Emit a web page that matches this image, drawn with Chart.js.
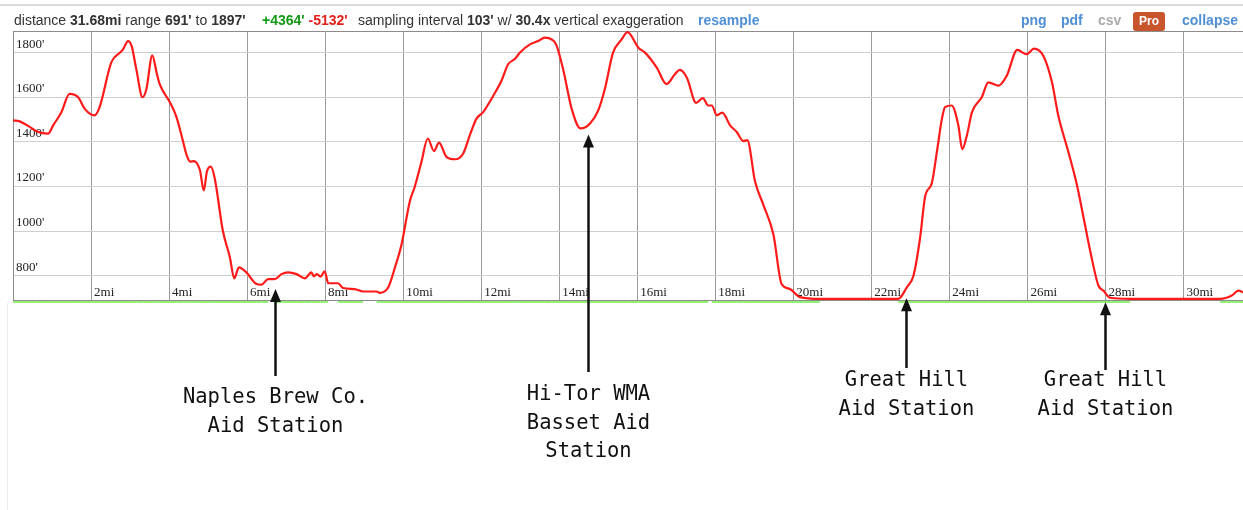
<!DOCTYPE html>
<html>
<head>
<meta charset="utf-8">
<script src="https://cdn.jsdelivr.net/npm/chart.js@4.4.1/dist/chart.umd.min.js"></script>
<style>
  html, body { margin: 0; padding: 0; background: #fff; overflow: hidden; }
  body { width: 1243px; height: 510px; position: relative; font-family: "Liberation Sans", Arial, sans-serif; }
  .topline { position: absolute; left: 0; top: 4px; width: 1243px; height: 2px; background: #dcdcdc; }
  .leftline { position: absolute; left: 7px; top: 303px; width: 1px; height: 207px; background: #ececec; }
  #wrap { position: absolute; left: 0; top: 0; width: 1262px; height: 510px; }
  #header { position: absolute; left: 0; top: 12px; font-size: 14px; color: #333; white-space: nowrap; }
  #header span.g { position: absolute; top: 0; }
  .up { color: #139a13; font-weight: bold; }
  .down { color: #e3211b; font-weight: bold; }
  .lnk { color: #4f8fd6; font-weight: bold; }
  .dim { color: #aaa; font-weight: bold; }
  .pro { background: #c9552d; color: #fff; border-radius: 3px; padding: 2px 6px 3px; font-weight: bold; font-size: 12px; }
</style>
</head>
<body>
<div class="topline"></div>
<div class="leftline"></div>
<div id="wrap"><canvas id="profile" width="1262" height="510"></canvas></div>
<div id="header">
  <span class="g" style="left:14px">distance <b>31.68mi</b> range <b>691'</b> to <b>1897'</b></span>
  <span class="g" style="left:262px"><span class="up">+4364'</span> <span class="down">-5132'</span></span>
  <span class="g" style="left:358px">sampling interval <b>103'</b> w/ <b>30.4x</b> vertical exaggeration</span>
  <span class="g lnk" style="left:698px">resample</span>
  <span class="g lnk" style="left:1021px">png</span>
  <span class="g lnk" style="left:1061px">pdf</span>
  <span class="g dim" style="left:1098px">csv</span>
  <span class="g" style="left:1133px;top:0px"><span class="pro">Pro</span></span>
  <span class="g lnk" style="left:1182px">collapse</span>
</div>
<script>
// elevation profile
const miles = [
  0.00, 0.17, 0.43, 0.60, 0.90, 1.03, 1.24, 1.45, 1.67, 1.84,
  2.09, 2.22, 2.52, 2.74, 2.82, 2.95, 3.04, 3.16, 3.32, 3.42,
  3.57, 3.68, 3.76, 4.02, 4.19, 4.34, 4.45, 4.55, 4.63, 4.79,
  4.89, 4.97, 5.07, 5.17, 5.38, 5.56, 5.67, 5.79, 5.98, 6.24,
  6.37, 6.54, 6.71, 6.88, 7.05, 7.27, 7.48, 7.65, 7.71, 7.79,
  7.88, 7.99, 8.08, 8.33, 8.46, 8.76, 8.97, 9.32, 9.40, 9.62,
  9.79, 9.96, 10.17, 10.30, 10.47, 10.63, 10.79, 10.92, 11.11, 11.33,
  11.54, 11.71, 11.88, 12.05, 12.31, 12.52, 12.69, 12.86, 12.99, 13.25,
  13.46, 13.63, 13.81, 13.92, 14.10, 14.32, 14.55, 14.79, 15.00, 15.17,
  15.38, 15.60, 15.75, 16.03, 16.20, 16.50, 16.75, 16.97, 17.09, 17.27,
  17.51, 17.68, 17.82, 17.91, 18.04, 18.18, 18.38, 18.55, 18.72, 18.82,
  19.02, 19.23, 19.49, 19.70, 19.91, 20.17, 20.68, 22.69, 22.91, 23.08,
  23.25, 23.38, 23.55, 23.68, 23.81, 23.89, 24.06, 24.23, 24.33, 24.45,
  24.58, 24.83, 25.00, 25.26, 25.47, 25.74, 25.98, 26.17, 26.41, 26.63,
  26.79, 27.05, 27.27, 27.44, 27.61, 27.82, 27.95, 28.12, 28.63, 30.94,
  31.24, 31.41, 31.53, 31.68
];
const elevationFt = [
  1496, 1492, 1467, 1448, 1437, 1474, 1533, 1615, 1600, 1548,
  1519, 1556, 1756, 1800, 1815, 1852, 1830, 1726, 1600, 1637,
  1788, 1711, 1659, 1578, 1511, 1415, 1341, 1311, 1314, 1274,
  1182, 1267, 1289, 1237, 1000, 882, 788, 837, 815, 763,
  760, 785, 785, 807, 815, 807, 788, 815, 797, 807,
  796, 820, 766, 766, 745, 740, 729, 729, 723, 748,
  837, 941, 1133, 1200, 1311, 1415, 1359, 1397, 1333, 1322,
  1348, 1430, 1504, 1533, 1607, 1674, 1748, 1771, 1800, 1837,
  1852, 1867, 1859, 1837, 1726, 1548, 1460, 1482, 1541, 1637,
  1800, 1859, 1892, 1822, 1800, 1733, 1659, 1704, 1723, 1689,
  1575, 1596, 1563, 1563, 1519, 1531, 1474, 1444, 1403, 1408,
  1222, 1119, 985, 763, 741, 704, 696, 696, 748, 800,
  970, 1156, 1215, 1355, 1504, 1556, 1563, 1474, 1367, 1430,
  1533, 1600, 1667, 1652, 1696, 1812, 1793, 1818, 1785, 1667,
  1519, 1355, 1207, 1060, 911, 756, 733, 701, 696, 696,
  711, 733, 726, 722
];
const xTickMiles = [2, 4, 6, 8, 10, 12, 14, 16, 18, 20, 22, 24, 26, 28, 30];
const yTickFt = [800, 1000, 1200, 1400, 1600, 1800];

// aid stations marked under the profile
const aidMiles = [6.71, 14.74, 22.89, 27.99];
const aidLabels = [
  ['Naples Brew Co.', 'Aid Station'],
  ['Hi-Tor WMA', 'Basset Aid', 'Station'],
  ['Great Hill', 'Aid Station'],
  ['Great Hill', 'Aid Station']
];
// layout of the callouts (pixels)
const aidArrowEnd = [376, 372, 368, 370];
const aidTextTop = [398, 395, 381, 381];

function elevAt(m) {
  for (let i = 1; i < miles.length; i++) {
    if (miles[i] >= m) {
      const t = (m - miles[i - 1]) / (miles[i] - miles[i - 1]);
      return elevationFt[i - 1] + t * (elevationFt[i] - elevationFt[i - 1]);
    }
  }
  return elevationFt[elevationFt.length - 1];
}

const profileExtras = {
  id: 'profileExtras',
  beforeDatasetsDraw(chart) {
    const { ctx, chartArea: a } = chart;
    ctx.save();
    ctx.strokeStyle = '#8c8c8c';
    ctx.lineWidth = 1;
    ctx.strokeRect(a.left + 0.5, a.top + 0.5, a.right - a.left - 1, a.bottom - a.top);
    ctx.restore();
  },
  afterDraw(chart) {
    const { ctx, chartArea: a } = chart;
    const xs = chart.scales.x, ys = chart.scales.y;
    ctx.save();
    // grade strip below the plot
    ctx.lineWidth = 2;
    for (let i = 1; i < miles.length; i++) {
      const d = Math.abs(elevationFt[i] - elevationFt[i - 1]);
      if (d < 3) continue;
      const grade = d / ((miles[i] - miles[i - 1]) * 5280);
      ctx.strokeStyle = grade > 0.3 ? 'rgba(235,200,40,0.8)' : 'rgba(110,235,70,0.75)';
      ctx.beginPath();
      ctx.moveTo(xs.getPixelForValue(miles[i - 1]), a.bottom + 2);
      ctx.lineTo(xs.getPixelForValue(miles[i]), a.bottom + 2);
      ctx.stroke();
    }
    // arrows and labels
    ctx.fillStyle = '#111';
    ctx.strokeStyle = '#111';
    ctx.font = '20.5px "DejaVu Sans Mono", "Liberation Mono", monospace';
    ctx.textAlign = 'center';
    ctx.textBaseline = 'middle';
    aidMiles.forEach((m, i) => {
      const x = Math.round(xs.getPixelForValue(m)) + 0.5;
      const tip = ys.getPixelForValue(elevAt(m)) + 10;
      ctx.lineWidth = 2.5;
      ctx.beginPath();
      ctx.moveTo(x, tip + 10);
      ctx.lineTo(x, aidArrowEnd[i]);
      ctx.stroke();
      ctx.beginPath();
      ctx.moveTo(x, tip);
      ctx.lineTo(x - 5.5, tip + 13);
      ctx.lineTo(x + 5.5, tip + 13);
      ctx.closePath();
      ctx.fill();
      aidLabels[i].forEach((t, j) => ctx.fillText(t, x, aidTextTop[i] + j * 28.5));
    });
    ctx.restore();
  }
};

new Chart(document.getElementById('profile'), {
  type: 'line',
  plugins: [profileExtras],
  data: {
    datasets: [{
      data: miles.map((m, i) => ({ x: m, y: elevationFt[i] })),
      borderColor: '#ff1a1a',
      borderWidth: 2.2,
      pointRadius: 0,
      cubicInterpolationMode: 'monotone',
      fill: false
    }]
  },
  options: {
    responsive: false,
    animation: false,
    layout: { padding: { left: 7, top: 31, right: 13, bottom: 210 } },
    plugins: { legend: { display: false }, tooltip: { enabled: false } },
    scales: {
      x: {
        type: 'linear',
        min: 0,
        max: 31.68,
        afterBuildTicks: axis => { axis.ticks = xTickMiles.map(v => ({ value: v })); },
        border: { display: false },
        grid: { color: '#9a9a9a', drawTicks: false },
        ticks: {
          mirror: true,
          padding: 0,
          align: 'start',
          labelOffset: 3,
          maxRotation: 0,
          autoSkip: false,
          color: '#222',
          font: { family: '"Liberation Serif", "Times New Roman", serif', size: 13 },
          callback: v => v + 'mi'
        }
      },
      y: {
        min: 691,
        max: 1897,
        afterBuildTicks: axis => { axis.ticks = yTickFt.map(v => ({ value: v })); },
        border: { display: false },
        grid: { color: '#cfcfcf', drawTicks: false },
        ticks: {
          mirror: true,
          padding: 3,
          labelOffset: -8.5,
          color: '#222',
          font: { family: '"Liberation Serif", "Times New Roman", serif', size: 13 },
          callback: v => v + "'"
        }
      }
    }
  }
});
</script>
</body>
</html>
